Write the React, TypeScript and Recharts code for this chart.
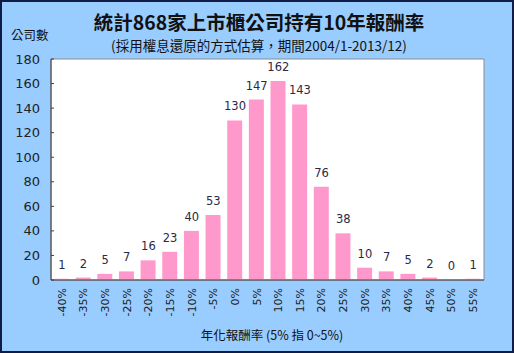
import React from "react";
import {
  ComposedChart,
  Bar,
  Line,
  XAxis,
  YAxis,
  CartesianGrid,
  ReferenceArea,
  LabelList,
} from "recharts";

const bins = [
  "-40%", "-35%", "-30%", "-25%", "-20%", "-15%", "-10%", "-5%", "0%", "5%",
  "10%", "15%", "20%", "25%", "30%", "35%", "40%", "45%", "50%", "55%",
];
const counts = [1, 2, 5, 7, 16, 23, 40, 53, 130, 147, 162, 143, 76, 38, 10, 7, 5, 2, 0, 1];
const yTicks = [0, 20, 40, 60, 80, 100, 120, 140, 160, 180];

const data = bins.map((bin, i) => ({ bin, count: counts[i] }));

const FONT = "'DejaVu Sans', Verdana, sans-serif";
const CJK = "'Noto Sans CJK TC', 'Noto Sans CJK SC', sans-serif";

const XTick = ({ x, y, payload }: any) => (
  <text
    x={x}
    y={y}
    dy="0.35em"
    transform={`rotate(-90 ${x} ${y})`}
    textAnchor="end"
    fontSize={11}
    fontFamily={FONT}
    fill="#222"
  >
    {payload.value}
  </text>
);

const YTick = ({ x, y, payload }: any) => (
  <g>
    <line x1={x + 11} x2={x + 14} y1={y} y2={y} stroke="#404040" />
    <text
      x={x}
      y={y}
      dy="0.35em"
      textAnchor="end"
      fontSize={13}
      fontFamily={FONT}
      fill="#222"
    >
      {payload.value}
    </text>
  </g>
);

export default function App() {
  return (
    <div
      style={{
        position: "absolute",
        left: 0,
        top: 0,
        width: 514,
        height: 353,
        background: "#99CCFF",
      }}
    >
      <div
        style={{
          position: "absolute",
          left: 0,
          right: 0,
          top: 10,
          lineHeight: "24px",
          textAlign: "center",
          fontFamily: CJK,
          fontWeight: "bold",
          fontSize: 19.5,
          color: "#111",
          paddingLeft: 4,
        }}
      >
        統計868家上市櫃公司持有10年報酬率
      </div>
      <div
        style={{
          position: "absolute",
          left: 0,
          right: 0,
          top: 37,
          lineHeight: "16px",
          textAlign: "center",
          fontFamily: CJK,
          fontSize: 13.5,
          color: "#111",
          paddingLeft: 4,
        }}
      >
        (採用權息還原的方式估算，期間2004/1-2013/12)
      </div>
      <div
        style={{
          position: "absolute",
          left: 11,
          top: 27,
          lineHeight: "16px",
          fontFamily: CJK,
          fontSize: 12.5,
          color: "#111",
        }}
      >
        公司數
      </div>
      <div
        style={{
          position: "absolute",
          left: 0,
          right: 0,
          top: 327,
          lineHeight: "16px",
          textAlign: "center",
          fontFamily: CJK,
          fontSize: 12.5,
          color: "#111",
          paddingLeft: 30,
        }}
      >
        年化報酬率 (5% 指 0~5%)
      </div>
      <div style={{ position: "absolute", left: 0, top: 0 }}>
        <ComposedChart
          width={514}
          height={353}
          data={data}
          margin={{ top: 59, right: 30, bottom: 23, left: 0 }}
        >
          <CartesianGrid fill="#ffffff" horizontal={false} vertical={false} />
          <ReferenceArea
            y1={0}
            y2={180}
            fill="none"
            stroke="#8c8c8c"
            strokeWidth={1}
          />
          <XAxis
            dataKey="bin"
            height={50}
            interval={0}
            tick={<XTick />}
            tickLine={false}
            axisLine={{ stroke: "#404040" }}
          />
          <YAxis
            width={51}
            domain={[0, 180]}
            ticks={yTicks}
            tick={<YTick />}
            tickLine={false}
            tickMargin={5}
            axisLine={{ stroke: "#404040" }}
          />
          <Bar
            dataKey="count"
            fill="#FF99CC"
            barSize={15}
            isAnimationActive={false}
          />
          <Line
            dataKey="count"
            stroke="none"
            dot={false}
            activeDot={false}
            isAnimationActive={false}
          >
            <LabelList
              dataKey="count"
              position="top"
              offset={10}
              fontSize={11.5}
              fontFamily={FONT}
              fill="#2a2a44"
            />
          </Line>
        </ComposedChart>
      </div>
      <div
        style={{
          position: "absolute",
          left: 0,
          top: 0,
          width: 514,
          height: 353,
          boxSizing: "border-box",
          border: "2px solid #101c45",
          pointerEvents: "none",
        }}
      />
    </div>
  );
}
